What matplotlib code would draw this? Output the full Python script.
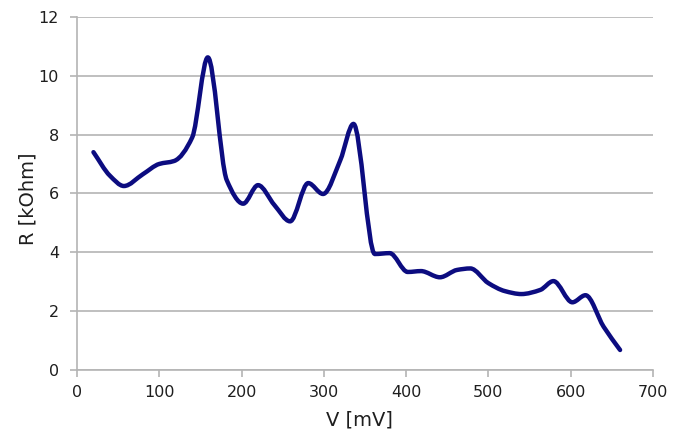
import numpy as np
import matplotlib.pyplot as plt
from matplotlib.path import Path
from matplotlib.patches import PathPatch

# Voltage (mV) and resistance (kOhm)
v_mv = [20, 40, 57, 80, 100, 118, 140, 159, 182, 202, 220, 240, 259, 281, 299, 320, 336,
        362, 380, 402, 418, 441, 462, 478, 500, 520, 540, 563, 579, 602, 618, 640, 660]
r_kohm = [7.4, 6.6, 6.25, 6.65, 7.0, 7.1, 7.9, 10.62, 6.45, 5.65, 6.28, 5.6, 5.05, 6.35, 5.98,
          7.13, 8.36, 3.94, 3.97, 3.33, 3.36, 3.15, 3.4, 3.45, 2.95, 2.68, 2.58, 2.72, 3.02,
          2.3, 2.54, 1.47, 0.68]

x_ticks = [0, 100, 200, 300, 400, 500, 600, 700]
y_ticks = [0, 2, 4, 6, 8, 10, 12]

navy = "#0c0c80"
grid_c = "#b4b4b4"
text_c = "#1e1e1e"

fig = plt.figure(figsize=(6.79, 4.41), dpi=100)
ax = fig.add_axes([0.1134, 0.161, 0.8483, 0.801])

# smooth line through the points (cubic bezier, monotone tangents)
x = np.asarray(v_mv, float)
y = np.asarray(r_kohm, float)
h = np.diff(x)
d = np.diff(y) / h
m = np.zeros_like(x)
m[0], m[-1] = d[0], d[-1]
for k in range(1, len(x) - 1):
    if d[k - 1] * d[k] > 0:
        w1 = 2 * h[k] + h[k - 1]
        w2 = h[k] + 2 * h[k - 1]
        m[k] = (w1 + w2) / (w1 / d[k - 1] + w2 / d[k])
verts = [(x[0], y[0])]
codes = [Path.MOVETO]
for k in range(len(x) - 1):
    verts += [(x[k] + h[k] / 3, y[k] + m[k] * h[k] / 3),
              (x[k + 1] - h[k] / 3, y[k + 1] - m[k + 1] * h[k] / 3),
              (x[k + 1], y[k + 1])]
    codes += [Path.CURVE4] * 3
ax.add_patch(PathPatch(Path(verts, codes), facecolor="none", edgecolor=navy,
                       lw=3.2, capstyle="round", joinstyle="round", zorder=3))

ax.set_xlim(0, 700)
ax.set_ylim(0, 12)
ax.set_xticks(x_ticks)
ax.set_yticks(y_ticks)
ax.yaxis.grid(True, color=grid_c, lw=1.2)
ax.set_axisbelow(True)

for s in ["top", "right"]:
    ax.spines[s].set_visible(False)
for s in ["left", "bottom"]:
    ax.spines[s].set_color(grid_c)
    ax.spines[s].set_linewidth(1.2)
ax.tick_params(axis="both", colors=grid_c, length=5, width=1.2, labelsize=11.5,
               labelcolor=text_c)
ax.tick_params(axis="x", pad=6)
ax.tick_params(axis="y", pad=8)

ax.set_xlabel("V [mV]", fontsize=14, color=text_c)
ax.set_ylabel("R [kOhm]", fontsize=14, color=text_c)
ax.xaxis.set_label_coords(0.49, -0.115)
ax.yaxis.set_label_coords(-0.068, 0.485)

plt.savefig("out.png", dpi=100)
